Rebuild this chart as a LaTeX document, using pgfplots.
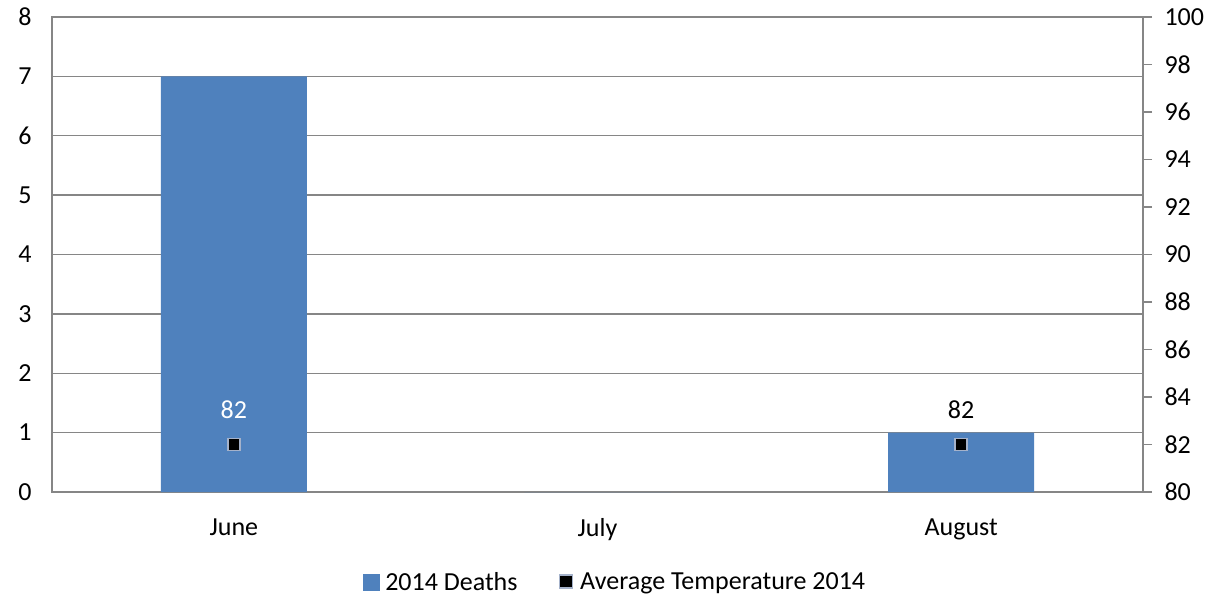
\documentclass[border=0pt]{standalone}
\usepackage{pgfplots}
\pgfplotsset{compat=1.18}
\usepackage{fontspec}
\setmainfont{Carlito}
\definecolor{barblue}{RGB}{79,129,189}
\definecolor{gridgray}{RGB}{134,134,134}
\definecolor{mkborder}{RGB}{165,178,202}
\pgfplotsset{base/.style={
  scale only axis, width=1091pt, height=475pt,
  at={(52pt,108pt)}, anchor=south west,
  xmin=-0.5, xmax=2.5,
  font=\fontsize{26}{31}\selectfont,
  axis line style={gridgray, line width=1.3pt},
  /pgf/number format/assume math mode=true,
}}
\begin{document}
\begin{tikzpicture}[x=1pt,y=1pt]
\useasboundingbox (0,0) rectangle (1225,600);
\begin{axis}[base,
  ymin=0, ymax=8, ytick={0,...,8},
  ymajorgrids, grid style={gridgray, line width=1.3pt},
  ytick pos=left, xtick pos=bottom,
  major tick style={draw=none},
  xtick={0,1,2}, xticklabels={June,July,August},
  xticklabel style={yshift=-23pt},
  yticklabel style={xshift=-17pt},
]
\addplot[ybar, bar width=146pt, fill=barblue, draw=none] coordinates {(0,7) (1,0) (2,1)};
\end{axis}
\begin{axis}[base,
  ymin=80, ymax=100, ytick={80,82,...,100},
  axis y line*=right, axis x line=none,
  tick align=outside, major tick length=9pt,
  ytick style={gridgray, line width=1.3pt},
  yticklabel style={xshift=9pt},
  legend style={at={(0.516,-0.189)}, anchor=center, draw=none, fill=none,
    legend columns=2, /tikz/every even column/.append style={column sep=40pt},
    font=\fontsize{26}{31}\selectfont},
  legend cell align=left,
]
\addlegendimage{legend image code/.code={\fill[barblue] (0pt,-8pt) rectangle (16pt,8pt); \path (20pt,0pt);}}
\addlegendentry{2014 Deaths}
\addplot[only marks, mark=square*, mark size=6pt,
  mark options={fill=black, draw=mkborder, line width=1.6pt},
  nodes near coords, point meta=explicit symbolic,
  every node near coord/.style={anchor=center, yshift=35pt, text=white, font=\fontsize{26}{31}\selectfont},
  legend image code/.code={\draw[mark size=6.5pt, mark options={fill=black, draw=mkborder, line width=1.6pt}] plot[mark=square*] coordinates {(8pt,0pt)}; \path (20pt,0pt);}
] coordinates {(0,82) [82]};
\addlegendentry{Average Temperature 2014}
\addplot[only marks, mark=square*, mark size=6pt,
  mark options={fill=black, draw=mkborder, line width=1.6pt},
  nodes near coords, point meta=explicit symbolic,
  every node near coord/.style={anchor=center, yshift=35pt, text=black, font=\fontsize{26}{31}\selectfont},
  forget plot
] coordinates {(2,82) [82]};
\end{axis}
\end{tikzpicture}
\end{document}
